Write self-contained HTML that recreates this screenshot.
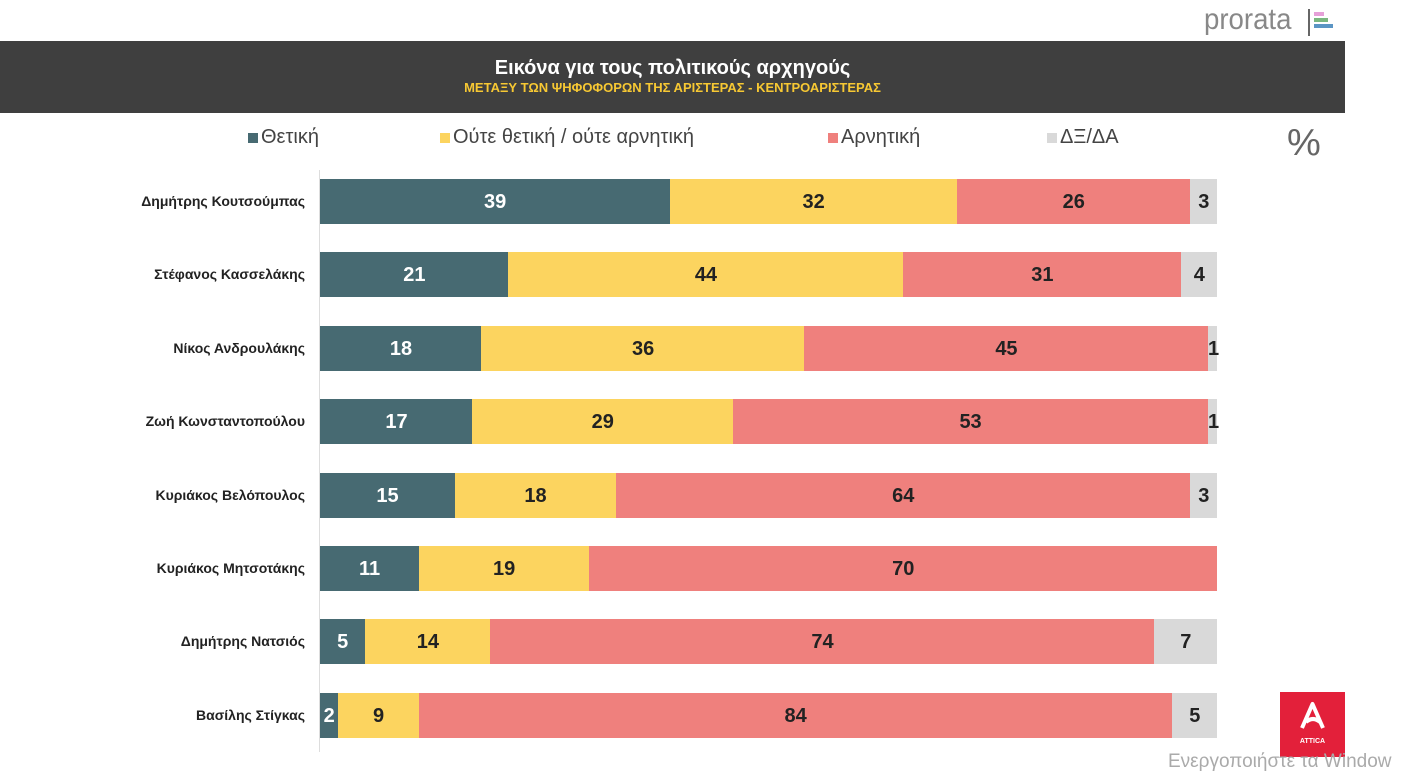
<!DOCTYPE html>
<html><head><meta charset="utf-8"><style>
body{margin:0;width:1402px;height:771px;background:#fff;position:relative;overflow:hidden;font-family:"Liberation Sans","DejaVu Sans",sans-serif}
.abs{position:absolute}
</style></head><body>
<div class="abs" style="left:1204px;top:3px;font-size:30px;color:#888;transform:scaleX(0.92);transform-origin:left;font-weight:300">prorata</div>
<div class="abs" style="left:1308px;top:9px;width:2px;height:27px;background:#666"></div>
<div class="abs" style="left:1314px;top:12px">
<div style="width:10px;height:4px;background:#e6a0d8;margin-bottom:2px"></div>
<div style="width:14px;height:4px;background:#7ab77f;margin-bottom:2px"></div>
<div style="width:19px;height:4px;background:#5b95c4"></div></div>
<div class="abs" style="left:0;top:41px;width:1345px;height:72px;background:#3f3f3f;text-align:center">
<div style="color:#fff;font-weight:bold;font-size:20px;margin-top:16px">Εικόνα για τους πολιτικούς αρχηγούς</div>
<div style="color:#f7c833;font-weight:bold;font-size:13px;margin-top:0px">ΜΕΤΑΞΥ ΤΩΝ ΨΗΦΟΦΟΡΩΝ ΤΗΣ ΑΡΙΣΤΕΡΑΣ - ΚΕΝΤΡΟΑΡΙΣΤΕΡΑΣ</div></div>
<div class="abs" style="left:1287px;top:122px;font-size:38px;color:#666">%</div>
<div class="abs" style="left:1280px;top:692px;width:65px;height:65px;background:#e3203a;color:#fff;text-align:center">
<svg width="65" height="45" viewBox="0 0 65 45"><path d="M22 36 L32.5 12 L43 36 M26 30 Q33 24 40 30" stroke="#fff" stroke-width="4" fill="none" stroke-linejoin="round"/></svg>
<div style="font-size:7px;font-weight:bold;margin-top:-4px">ATTICA</div></div>
<div class="abs" style="left:1168px;top:751px;font-size:19px;color:#aaa;white-space:nowrap">Ενεργοποιήστε τα Window</div>
<div class="abs" style="left:319px;top:170px;width:1px;height:582px;background:#ddd"></div>
<div id="legend"></div>
<div id="chart"></div>
<script>
const names=["Δημήτρης Κουτσούμπας","Στέφανος Κασσελάκης","Νίκος Ανδρουλάκης","Ζωή Κωνσταντοπούλου","Κυριάκος Βελόπουλος","Κυριάκος Μητσοτάκης","Δημήτρης Νατσιός","Βασίλης Στίγκας"];
const positive=[39,21,18,17,15,11,5,2];
const neutral=[32,44,36,29,18,19,14,9];
const negative=[26,31,45,53,64,70,74,84];
const dkna=[3,4,1,1,3,0,7,5];
const seriesNames=["Θετική","Ούτε θετική / ούτε αρνητική","Αρνητική","ΔΞ/ΔΑ"];
const colors=["#476a72","#fcd45f","#ef807d","#d9d9d9"];
const x0=320,unit=8.97,y0=179,step=73.4,bh=45;
const xs=v=>v*unit;
const chart=document.getElementById('chart');
const series=[positive,neutral,negative,dkna];
names.forEach((n,i)=>{
 const y=y0+i*step;
 const l=document.createElement('div');
 
 
 l.className='abs';l.textContent=n;
 l.style.cssText=`right:${1402-305}px;top:${y+14}px;font-size:14px;font-weight:bold;color:#222;white-space:nowrap`;
 chart.appendChild(l);
 let acc=0;
 series.forEach((s,k)=>{
  const v=s[i]; if(!v) return;
  const b=document.createElement('div');
  
  
  b.className='abs';
  b.style.cssText=`left:${x0+xs(acc)}px;top:${y}px;width:${xs(v)+0.5}px;height:${bh}px;background:${colors[k]};color:${k==0?'#fff':'#222'};font-weight:bold;font-size:20px;line-height:${bh+1}px;text-align:center;overflow:visible;white-space:nowrap`;
  b.textContent=v;
  chart.appendChild(b);
  acc+=v;
 });
});
const lx=[248,440,828,1047];
const leg=document.getElementById('legend');
seriesNames.forEach((n,k)=>{
 const e=document.createElement('div');
 
 
 e.className='abs';
 e.style.cssText=`left:${lx[k]}px;top:126px;font-size:20px;color:#444;white-space:nowrap`;
 e.innerHTML=`<span style="display:inline-block;width:10px;height:10px;background:${colors[k]};margin-right:3px"></span>${n}`;
 leg.appendChild(e);
});
</script>
</body></html>
